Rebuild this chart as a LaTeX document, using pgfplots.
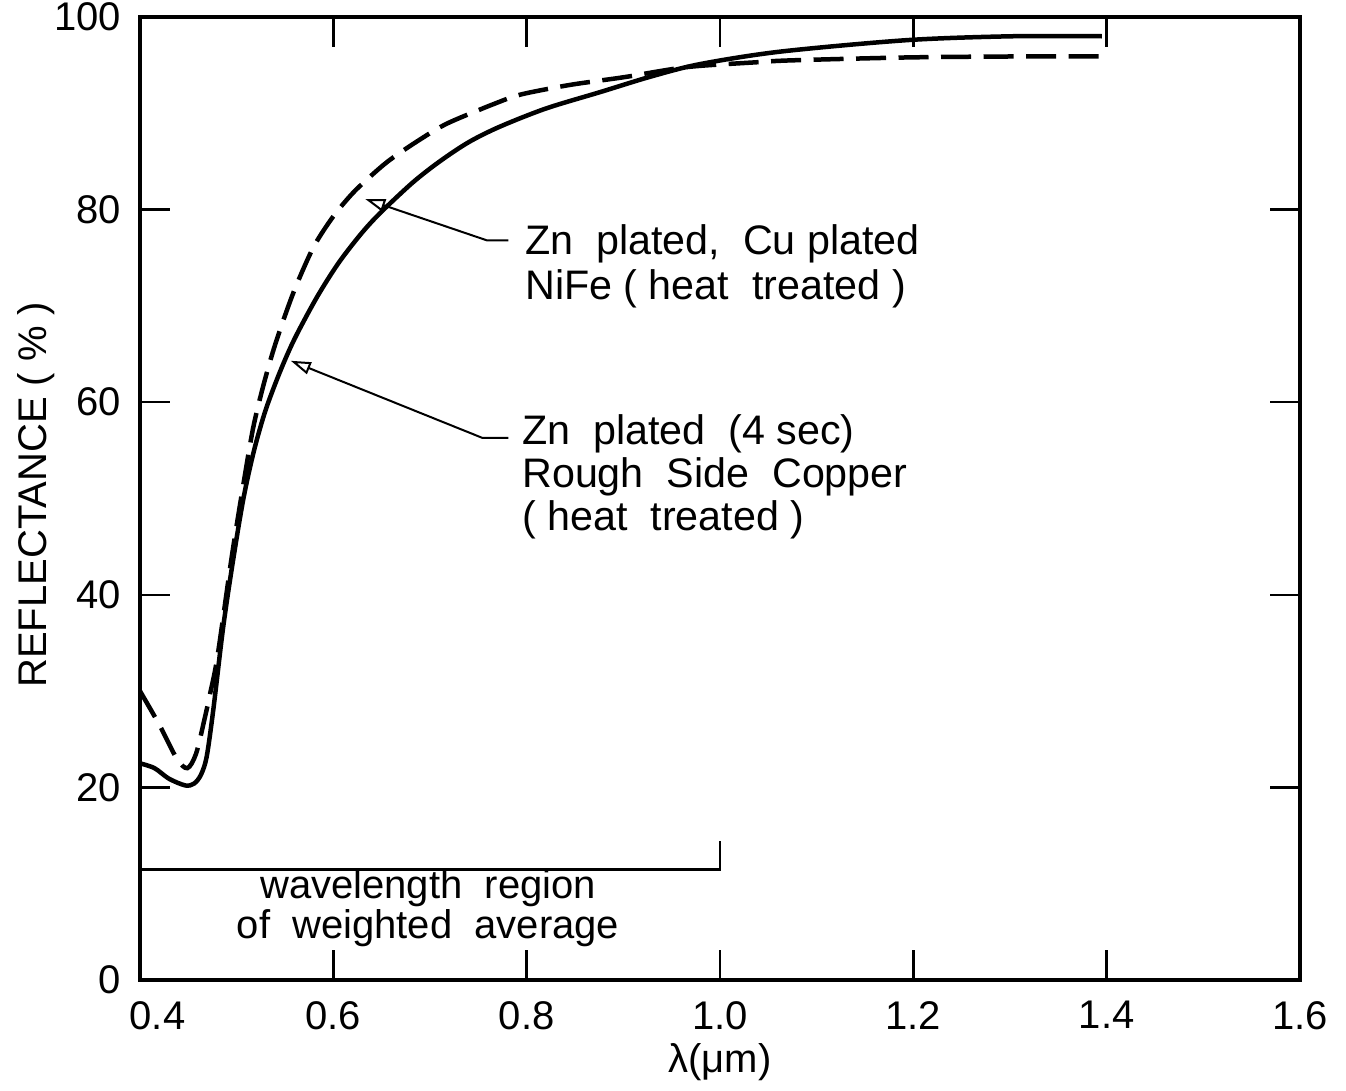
\documentclass[border=0pt]{standalone}
\usepackage{pgfplots}
\pgfplotsset{compat=1.18}
\usepackage{fontspec}
\setmainfont{Liberation Sans}
\usetikzlibrary{arrows.meta}

\newcommand{\lblfont}{\fontsize{16}{19}\selectfont}

\begin{document}
\lblfont
\begin{tikzpicture}
\begin{axis}[
  scale only axis,
  width=464pt, height=385.2pt,
  xmin=0.4, xmax=1.6, ymin=0, ymax=100,
  xtick={0.4,0.6,0.8,1.0,1.2,1.4,1.6},
  xticklabels={\hspace*{14pt}0.4,0.6,0.8,1.0,1.2,1.4,1.6},
  ytick={0,20,40,60,80,100},
  yticklabels={0,20,40,60,80,100},
  tick align=inside,
  major tick length=12pt,
  tick style={line width=1pt, black},
  axis line style={line width=1.4pt},
  every tick label/.append style={font=\lblfont},
  xticklabel style={yshift=-3pt},
  yticklabel style={xshift=-2pt},
  xlabel={λ(μm)},
  ylabel={REFLECTANCE ( \% )},
  label style={font=\lblfont},
  xlabel style={at={(axis description cs:0.5,-0.085)}, anchor=center},
  ylabel style={at={(axis description cs:-0.0897,0.504)}, anchor=center},
]

% Zn plated (4 sec), rough side copper, heat treated
\addplot[black, line width=1.8pt, smooth, tension=0.5] coordinates {
  (0.400,22.5) (0.415,22.0) (0.430,20.9) (0.447,20.2) (0.456,20.4)
  (0.463,21.3) (0.469,23.2) (0.476,28.2) (0.486,36.6) (0.496,43.4)
  (0.507,50.0) (0.518,55.0) (0.530,59.2) (0.545,63.2) (0.560,66.6)
  (0.583,70.9) (0.605,74.4) (0.628,77.4) (0.648,79.6) (0.682,82.8)
  (0.710,85.0) (0.740,87.0) (0.772,88.6) (0.820,90.5) (0.876,92.2)
  (0.928,93.8) (0.979,95.1) (1.062,96.4) (1.194,97.6) (1.303,98.0)
  (1.395,98.0)
};

% Zn plated, Cu plated NiFe, heat treated
\addplot[black, line width=1.8pt, smooth, tension=0.5, dash pattern=on 12pt off 5pt] coordinates {
  (0.400,30.0) (0.420,26.5) (0.438,23.0) (0.449,22.0) (0.458,23.5)
  (0.467,27.2) (0.472,29.5) (0.480,33.5) (0.495,44.0) (0.507,51.5)
  (0.517,57.3) (0.527,61.5) (0.538,65.4) (0.550,69.0) (0.562,72.2)
  (0.580,76.2) (0.600,79.3) (0.620,81.7) (0.640,83.6) (0.659,85.2)
  (0.690,87.3) (0.719,89.0) (0.772,91.2) (0.796,92.0) (0.842,92.9)
  (0.876,93.4) (0.904,93.8) (0.966,94.8) (1.038,95.3) (1.075,95.5)
  (1.194,95.8) (1.303,95.9) (1.395,95.9)
};

% bracket marking the averaging range
\addplot[black, line width=1pt] coordinates {(0.4,11.5) (1.0,11.5) (1.0,14.4)};

\node[align=center, inner sep=0pt, font=\fontsize{16}{14.6}\selectfont]
  at (axis cs:0.698,7.5) {wavelength\ \ region\\of\ \ weighted\ \ average};

% callouts
\draw[line width=0.8pt, -{Triangle[open, length=8pt, width=5pt]}]
  (axis cs:0.781,76.8) -- (axis cs:0.759,76.8) -- (axis cs:0.633,81.1);
\draw[line width=0.8pt, -{Triangle[open, length=8pt, width=5pt]}]
  (axis cs:0.781,56.3) -- (axis cs:0.754,56.3) -- (axis cs:0.556,64.3);

\node[anchor=west, align=left, inner sep=0pt, font=\fontsize{16.5}{18}\selectfont]
  at (axis cs:0.798,74.1) {Zn\ \ plated,\ \ Cu plated\\NiFe ( heat\ \ treated )};
\node[anchor=west, align=left, inner sep=0pt, font=\fontsize{16.5}{17.2}\selectfont]
  at (axis cs:0.795,52.3) {Zn\ \ plated\ \ (4 sec)\\Rough\ \ Side\ \ Copper\\( heat\ \ treated )};

\coordinate (bbSW) at (rel axis cs:0,0);
\coordinate (bbNE) at (rel axis cs:1,1);
\end{axis}
\pgfresetboundingbox
\path[use as bounding box] ([shift={(-56pt,-44.4pt)}]bbSW) rectangle ([shift={(18.4pt,6.8pt)}]bbNE);
\end{tikzpicture}
\end{document}
